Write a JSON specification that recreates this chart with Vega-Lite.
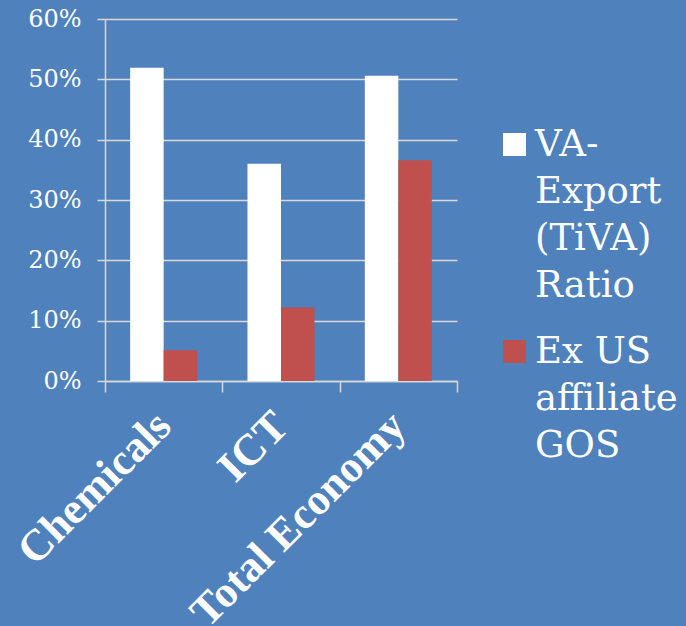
{
  "$schema": "https://vega.github.io/schema/vega-lite/v6.json",
  "width": 352,
  "height": 362,
  "autosize": "none",
  "padding": {"left": 105, "top": 19, "right": 229, "bottom": 245},
  "background": "#4F81BD",
  "config": {"view": {"stroke": null}},
  "data": {
    "values": [
      {"sector": "Chemicals", "series": "VA-Export (TiVA) Ratio", "value": 0.519},
      {"sector": "Chemicals", "series": "Ex US affiliate GOS", "value": 0.051},
      {"sector": "ICT", "series": "VA-Export (TiVA) Ratio", "value": 0.360},
      {"sector": "ICT", "series": "Ex US affiliate GOS", "value": 0.122},
      {"sector": "Total Economy", "series": "VA-Export (TiVA) Ratio", "value": 0.506},
      {"sector": "Total Economy", "series": "Ex US affiliate GOS", "value": 0.366}
    ]
  },
  "mark": {"type": "bar"},
  "encoding": {
    "x": {
      "field": "sector",
      "type": "nominal",
      "sort": ["Chemicals", "ICT", "Total Economy"],
      "scale": {"paddingInner": 0, "paddingOuter": 0},
      "axis": {
        "title": null,
        "labelAngle": -45,
        "labelAlign": "right",
        "labelBaseline": "middle",
        "labelFont": "Liberation Serif",
        "labelFontWeight": "bold",
        "labelFontSize": 44,
        "labelColor": "white",
        "labelPadding": 27,
        "labelLimit": 500,
        "tickBand": "extent",
        "tickSize": 11,
        "tickColor": "#D9D9D9",
        "tickWidth": 1.5,
        "domainColor": "#D9D9D9",
        "domainWidth": 1.5
      }
    },
    "xOffset": {
      "field": "series",
      "sort": ["VA-Export (TiVA) Ratio", "Ex US affiliate GOS"],
      "scale": {"paddingOuter": 0.75, "paddingInner": 0}
    },
    "y": {
      "field": "value",
      "type": "quantitative",
      "scale": {"domain": [0, 0.6]},
      "axis": {
        "title": null,
        "format": ".0%",
        "values": [0, 0.1, 0.2, 0.3, 0.4, 0.5, 0.6],
        "labelFont": "DejaVu Serif",
        "labelFontSize": 24,
        "labelColor": "white",
        "labelPadding": 16,
        "tickSize": 8,
        "tickColor": "#D9D9D9",
        "tickWidth": 1.5,
        "gridColor": "#D9D9D9",
        "gridWidth": 1.5,
        "gridOpacity": 1,
        "domainColor": "#D9D9D9",
        "domainWidth": 1.5
      }
    },
    "color": {
      "field": "series",
      "type": "nominal",
      "scale": {
        "domain": ["VA-Export (TiVA) Ratio", "Ex US affiliate GOS"],
        "range": ["#FFFFFF", "#C0504D"]
      },
      "legend": {
        "title": null,
        "orient": "none",
        "legendX": 391,
        "legendY": 107,
        "symbolType": "square",
        "symbolSize": 529,
        "symbolStrokeWidth": 0,
        "symbolOpacity": 1,
        "labelFont": "DejaVu Serif",
        "labelFontSize": 37,
        "labelColor": "white",
        "labelOffset": 2,
        "labelLimit": 300,
        "labelBaseline": "top",
        "rowPadding": 28,
        "labelExpr": "datum.label == 'VA-Export (TiVA) Ratio' ? ['VA-', 'Export', '(TiVA)', 'Ratio'] : ['Ex US', 'affiliate', 'GOS']",
        "encode": {"labels": {"update": {"lineHeight": {"value": 47}, "dy": {"value": -18}}}}
      }
    }
  }
}
